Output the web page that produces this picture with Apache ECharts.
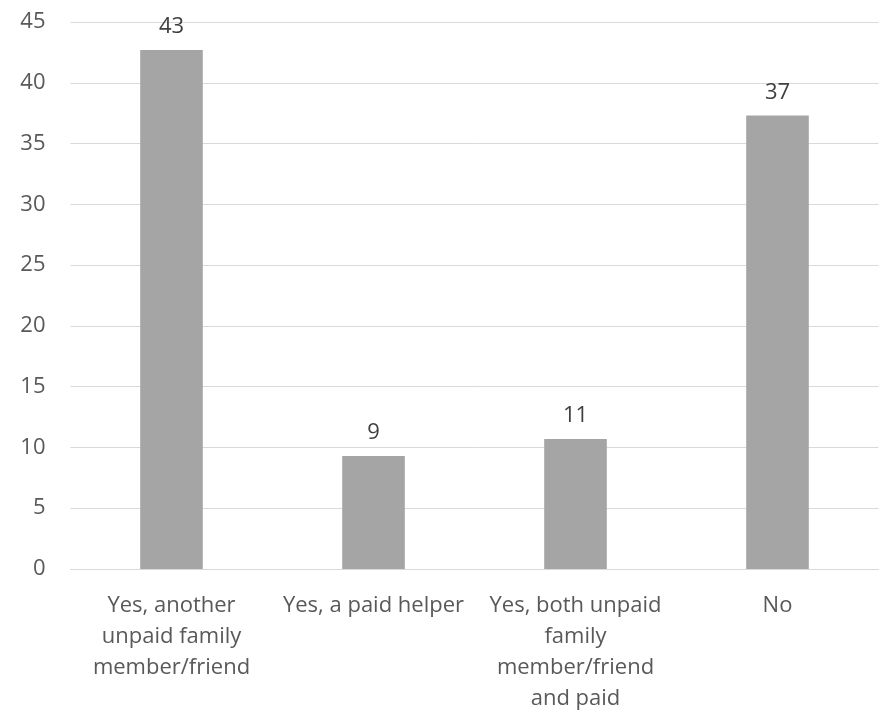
<!DOCTYPE html>
<html>
<head>
<meta charset="utf-8">
<script src="https://cdn.jsdelivr.net/npm/echarts@6/dist/echarts.min.js"></script>
<style>
html,body{margin:0;padding:0;background:#fff;}
#chart{width:880px;height:714px;}
</style>
</head>
<body>
<div id="chart"></div>
<script>
var categories = [
  "Yes, another\nunpaid family\nmember/friend",
  "Yes, a paid helper",
  "Yes, both unpaid\nfamily\nmember/friend\nand paid",
  "No"
];
var values = [42.7, 9.3, 10.7, 37.3];
var yMin = 0, yMax = 45, yStep = 5;

var FONT = "Open Sans";
var chart = echarts.init(document.getElementById('chart'), null, {renderer: 'canvas'});
chart.setOption({
  animation: false,
  backgroundColor: '#ffffff',
  textStyle: {fontFamily: FONT},
  grid: {left: 70.5, right: 1.5, top: 22, bottom: 144, containLabel: false},
  xAxis: {
    type: 'category',
    data: categories,
    axisLine: {show: true, lineStyle: {color: '#d9d9d9', width: 1}},
    axisTick: {show: false},
    axisLabel: {color: '#595959', fontSize: 22, fontFamily: FONT, lineHeight: 31, margin: 21, interval: 0}
  },
  yAxis: {
    type: 'value',
    min: yMin, max: yMax, interval: yStep,
    axisLine: {show: false},
    axisTick: {show: false},
    axisLabel: {color: '#595959', fontSize: 22, fontFamily: FONT, margin: 25},
    splitLine: {lineStyle: {color: '#d9d9d9', width: 1}}
  },
  series: [{
    type: 'bar',
    data: values,
    barWidth: '31%',
    itemStyle: {color: '#a5a5a5'},
    label: {
      show: true,
      position: 'top',
      distance: 12,
      color: '#404040',
      fontSize: 22,
      fontFamily: FONT,
      formatter: function (p) { return Math.round(p.value); }
    }
  }]
});
</script>
</body>
</html>
